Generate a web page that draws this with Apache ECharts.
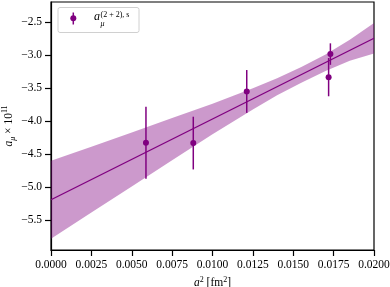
<!DOCTYPE html>
<html><head><meta charset="utf-8">
<script src="https://cdn.jsdelivr.net/npm/echarts@6/dist/echarts.min.js"></script>
<style>html,body{margin:0;padding:0;background:#fff}#c{width:390px;height:287px}</style>
</head><body><div id="c"></div>
<script>
// data points (a^2 in fm^2, a_mu x 10^11, error)
var pointX = [0.00588, 0.00881, 0.01212, 0.01730, 0.01719];
var pointY = [-4.325, -4.33, -3.547, -2.98, -3.33];
var pointErr = [0.545, 0.40, 0.325, 0.163, 0.29];
// fit line
var fitX = [0, 0.02];
var fitY = [-5.19, -2.74];
// error band of the fit
var bandX = [0, 0.0025, 0.005, 0.0075, 0.01, 0.0125, 0.014, 0.0155, 0.017, 0.0185, 0.02];
var bandUpper = [-4.60, -4.384, -4.168, -3.951, -3.735, -3.499, -3.345, -3.176, -2.988, -2.764, -2.51];
var bandLower = [-5.78, -5.384, -4.988, -4.591, -4.195, -3.819, -3.605, -3.415, -3.235, -3.08, -2.97];
// ticks
var xTicks = [0, 0.0025, 0.005, 0.0075, 0.01, 0.0125, 0.015, 0.0175, 0.02];
var yTicks = [-5.5, -5.0, -4.5, -4.0, -3.5, -3.0, -2.5];

var PURPLE = '#800080';
var FONT = 'Liberation Serif';
var chart = echarts.init(document.getElementById('c'), null, {renderer: 'canvas'});

var pts = pointX.map(function (x, i) { return [x, pointY[i], pointErr[i]]; });
var fit = fitX.map(function (x, i) { return [x, fitY[i]]; });

function minus(v) { return (v < 0 ? '\u2212' : '') + Math.abs(v).toFixed(1); }

var mathRich = {
  i: {fontStyle: 'italic', fontFamily: FONT, fontSize: 11.5, fill: '#000', color: '#000'},
  b: {fontStyle: 'italic', fontFamily: FONT, fontSize: 8, verticalAlign: 'bottom', fill: '#000', color: '#000'},
  s: {fontFamily: FONT, fontSize: 8, verticalAlign: 'top', fill: '#000', color: '#000'}
};

chart.setOption({
  animation: false,
  grid: {left: 51, right: 16, top: 2, bottom: 37, outerBoundsMode: 'none', containLabel: false,
    show: true, borderColor: '#000', borderWidth: 1.2, backgroundColor: 'transparent'},
  xAxis: {
    type: 'value', min: 0, max: 0.02,
    axisLine: {show: true, onZero: false, lineStyle: {color: '#000', width: 1.2}},
    axisTick: {show: true, length: 6, customValues: xTicks, lineStyle: {color: '#000', width: 1.2}},
    axisLabel: {customValues: xTicks, color: '#000', fontFamily: FONT, fontSize: 11.5, margin: 9, hideOverlap: false,
      formatter: function (v) { return v.toFixed(4); }},
    splitLine: {show: false},
    name: '{i|a}{s|2} [fm{s|2}]', nameLocation: 'middle', nameGap: 23,
    nameTextStyle: {color: '#000', fontFamily: FONT, fontSize: 11.5, lineHeight: 14, rich: mathRich}
  },
  yAxis: {
    type: 'value', min: -5.952, max: -2.19,
    axisLine: {show: true, onZero: false, lineStyle: {color: '#000', width: 1.2}},
    axisTick: {show: true, length: 6, customValues: yTicks, lineStyle: {color: '#000', width: 1.2}},
    axisLabel: {customValues: yTicks, color: '#000', fontFamily: FONT, fontSize: 11.5, margin: 9, formatter: minus},
    splitLine: {show: false}
  },
  series: [
    {
      type: 'custom', data: [[0]], z: 1, silent: true,
      renderItem: function (params, api) {
        var poly = [];
        for (var i = 0; i < bandX.length; i++) poly.push(api.coord([bandX[i], bandUpper[i]]));
        for (var j = bandX.length - 1; j >= 0; j--) poly.push(api.coord([bandX[j], bandLower[j]]));
        return {type: 'polygon', shape: {points: poly}, style: {fill: 'rgba(128,0,128,0.4)', stroke: 'none'}};
      }
    },
    {
      type: 'line', data: fit, symbol: 'none', z: 2,
      lineStyle: {color: PURPLE, width: 1.3}
    },
    {
      type: 'custom', data: pts, z: 3,
      renderItem: function (params, api) {
        var x = api.value(0), y = api.value(1), e = api.value(2);
        var p1 = api.coord([x, y + e]), p2 = api.coord([x, y - e]);
        return {type: 'line', shape: {x1: p1[0], y1: p1[1], x2: p2[0], y2: p2[1]}, style: {stroke: PURPLE, lineWidth: 1.5}};
      }
    },
    {
      type: 'scatter', data: pts, symbol: 'circle', symbolSize: 6, z: 4,
      itemStyle: {color: PURPLE, opacity: 1}
    }
  ],
  graphic: [
    {type: 'text', z: 11, x: 9, y: 126, rotation: Math.PI / 2,
      style: {text: '{i|a}{b|\u03bc} \u00d7 10{s|11}', font: '11.5px "Liberation Serif"', fill: '#000',
        align: 'center', verticalAlign: 'middle', lineHeight: 16, rich: mathRich}},
    {type: 'rect', left: 57.5, top: 7, z: 10, shape: {width: 81, height: 25, r: 2},
      style: {fill: 'rgba(255,255,255,0.8)', stroke: '#d0d0d0', lineWidth: 1}},
    {type: 'line', z: 11, shape: {x1: 73.3, y1: 12.5, x2: 73.3, y2: 24.5}, style: {stroke: PURPLE, lineWidth: 1.5}},
    {type: 'circle', z: 11, shape: {cx: 73.3, cy: 18.3, r: 3}, style: {fill: PURPLE}},
    {type: 'text', z: 11, x: 94, y: 11, style: {text: 'a', font: 'italic 12px "Liberation Serif"', fill: '#000'}},
    {type: 'text', z: 11, x: 100.5, y: 19.5, style: {text: '\u03bc', font: 'italic 8px "Liberation Serif"', fill: '#000'}},
    {type: 'text', z: 11, x: 100.5, y: 10.5, style: {text: '(2 + 2), s', font: '8px "Liberation Serif"', fill: '#000'}}
  ]
});
</script>
</body></html>
